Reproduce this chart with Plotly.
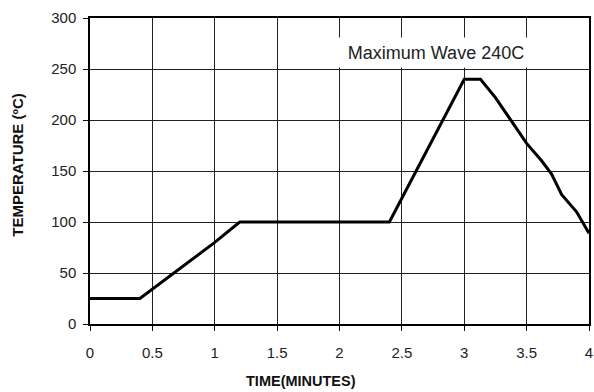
import plotly.graph_objects as go

time_min = [0, 0.4, 1.0, 1.1, 1.2, 2.4, 3.0, 3.13, 3.25, 3.5, 3.62, 3.7, 3.78, 3.9, 4.0]
temp_c = [25, 25, 80, 90, 100, 100, 240, 240, 222, 177, 160, 147, 127, 110, 89]
x_ticks = [0, 0.5, 1, 1.5, 2, 2.5, 3, 3.5, 4]
x_labels = ["0", "0.5", "1", "1.5", "2", "2.5", "3", "3.5", "4"]
y_ticks = [0, 50, 100, 150, 200, 250, 300]

fig = go.Figure()
fig.add_trace(go.Scatter(x=time_min, y=temp_c, mode="lines",
                         line=dict(color="black", width=3), showlegend=False))

fig.add_annotation(x=2.77, y=266, text="Maximum Wave 240C", showarrow=False,
                   font=dict(size=18, color="#222"), bgcolor="white",
                   width=214, height=29, borderpad=0)

fig.add_annotation(xref="paper", yref="paper", x=0.423, y=-0.186,
                   text="<b>TIME(MINUTES)</b>", showarrow=False,
                   font=dict(size=14.5, color="#111"), xanchor="center", yanchor="middle")
fig.add_annotation(xref="paper", yref="paper", x=-0.146, y=0.521, textangle=-90,
                   text="<b>TEMPERATURE (ºC)</b>", showarrow=False,
                   font=dict(size=15, color="#111"), xanchor="center", yanchor="middle")

axis_common = dict(showgrid=True, gridcolor="#222", gridwidth=1,
                   showline=True, linecolor="black", linewidth=1.5, mirror=True,
                   ticks="outside", ticklen=5, tickcolor="black",
                   zeroline=False, automargin=False,
                   tickfont=dict(size=15, color="#222"))

fig.update_xaxes(range=[0, 4], tickvals=x_ticks, ticktext=x_labels,
                 ticklabelstandoff=9, **axis_common)
fig.update_yaxes(range=[0, 300], tickvals=y_ticks,
                 ticklabelstandoff=4, **axis_common)

fig.update_layout(width=594, height=392, margin=dict(l=90, r=5, t=18, b=68),
                  plot_bgcolor="white", paper_bgcolor="white",
                  font=dict(family="Liberation Sans, Arial, sans-serif"))

fig.write_html("out.html", config={"displayModeBar": False},
               post_script="document.body.style.margin='0px';document.body.style.overflow='hidden';")
